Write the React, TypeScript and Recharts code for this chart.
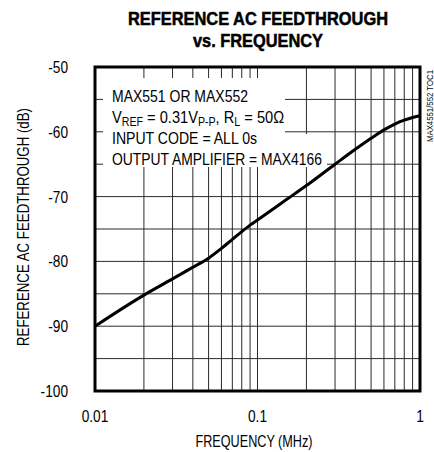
import { CartesianGrid, Customized, Line, LineChart, ReferenceArea, XAxis, YAxis } from "recharts";

const freqMHz = [0.01, 0.02, 0.03, 0.04, 0.05, 0.06, 0.07, 0.08, 0.09, 0.1, 0.15, 0.2, 0.3, 0.4, 0.5, 0.6, 0.7, 0.8, 0.9, 1];
const feedthroughDb = [-90, -85.2, -82.7, -80.9, -79.5, -78, -76.6, -75.4, -74.4, -73.6, -70.5, -68.3, -65, -62.7, -61, -59.7, -58.8, -58.2, -57.8, -57.5];

const xTicks = [0.01, 0.1, 1];
const xTickLabels = ["0.01", "0.1", "1"];
const yTicks = [-100, -90, -80, -70, -60, -50];
const xGrid = [0.02, 0.03, 0.04, 0.05, 0.06, 0.07, 0.08, 0.09, 0.1, 0.2, 0.3, 0.4, 0.5, 0.6, 0.7, 0.8, 0.9];
const yGrid = [-95, -90, -85, -80, -75, -70, -65, -60, -55];

const data = freqMHz.map((f, i) => ({ f, db: feedthroughDb[i] }));

const FONT = "'Liberation Sans', Arial, Helvetica, sans-serif";
const NARROW = 0.83;

function XTick(props: any) {
  const { x, y, payload } = props;
  const label = xTickLabels[xTicks.indexOf(payload.value)] ?? String(payload.value);
  return (
    <g transform={`translate(${x},${y + 31})`}>
      <text transform={`scale(${NARROW},1)`} textAnchor="middle" fontSize={16.5} fontFamily={FONT} fill="#000">
        {label}
      </text>
    </g>
  );
}

function YTick(props: any) {
  const { x, y, payload } = props;
  return (
    <g transform={`translate(${x},${y + 6})`}>
      <text transform={`scale(${NARROW},1)`} textAnchor="end" fontSize={16.5} fontFamily={FONT} fill="#000">
        {payload.value}
      </text>
    </g>
  );
}

function Overlay() {
  return (
    <g fontFamily={FONT} fill="#000">
      {/* title */}
      <text x={258} y={25} textAnchor="middle" fontSize={18} fontWeight={700} stroke="#000" strokeWidth={0.5} textLength={260} lengthAdjust="spacingAndGlyphs">
        REFERENCE AC FEEDTHROUGH
      </text>
      <text x={258} y={47} textAnchor="middle" fontSize={18} fontWeight={700} stroke="#000" strokeWidth={0.5} textLength={130} lengthAdjust="spacingAndGlyphs">
        vs. FREQUENCY
      </text>

      {/* white patch behind the conditions text */}
      <rect x={103} y={78} width={182} height={89} fill="#fff" />
      <rect x={284} y={134} width={43} height={33} fill="#fff" />

      <text x={112} y={102} fontSize={16.5} textLength={136} lengthAdjust="spacingAndGlyphs">MAX551 OR MAX552</text>
      <g transform="translate(112,123) scale(0.887,1)">
        <text x={0} y={0} fontSize={16.5}>
          V<tspan fontSize={12} baselineShift="-3">REF</tspan> = 0.31V<tspan fontSize={12} baselineShift="-3">P-P</tspan>, R<tspan fontSize={12} baselineShift="-3">L</tspan> = 50Ω
        </text>
      </g>
      <text x={112} y={144} fontSize={16.5} textLength={145} lengthAdjust="spacingAndGlyphs">INPUT CODE = ALL 0s</text>
      <text x={112} y={165} fontSize={16.5} textLength={210} lengthAdjust="spacingAndGlyphs">OUTPUT AMPLIFIER = MAX4166</text>

      {/* axis titles */}
      <text x={254} y={447} textAnchor="middle" fontSize={16} textLength={117} lengthAdjust="spacingAndGlyphs">FREQUENCY (MHz)</text>
      <text transform="translate(28.5,227) rotate(-90)" textAnchor="middle" fontSize={16} textLength={238} lengthAdjust="spacingAndGlyphs">
        REFERENCE AC FEEDTHROUGH (dB)
      </text>
      <text transform="translate(433,106) rotate(-90)" textAnchor="middle" fontSize={9.5} textLength={72} lengthAdjust="spacingAndGlyphs">
        MAX4551/552 TOC1
      </text>
    </g>
  );
}

export default function App() {
  return (
    <div style={{ position: "absolute", left: 0, top: 0, width: 434, height: 452, background: "#fff" }}>
      <LineChart width={434} height={452} data={data} margin={{ top: 67, right: 14, left: 0, bottom: 0 }}>
        <CartesianGrid horizontalValues={yGrid} verticalValues={xGrid} stroke="#2a2a2a" strokeWidth={1} />
        <XAxis
          dataKey="f"
          type="number"
          scale="log"
          domain={[0.01, 1]}
          ticks={xTicks}
          interval={0}
          axisLine={false}
          tickLine={false}
          tickSize={0}
          tickMargin={0}
          height={61}
          allowDataOverflow
          tick={<XTick />}
        />
        <YAxis
          type="number"
          domain={[-100, -50]}
          ticks={yTicks}
          interval={0}
          axisLine={false}
          tickLine={false}
          tickSize={0}
          tickMargin={27}
          width={95}
          tick={<YTick />}
        />
        <Customized component={Overlay} />
        <ReferenceArea x1={0.01} x2={1} y1={-100} y2={-50} fill="none" stroke="#000" strokeWidth={3} ifOverflow="visible" />
        <Line dataKey="db" type="monotone" stroke="#000" strokeWidth={3} dot={false} isAnimationActive={false} />
      </LineChart>
    </div>
  );
}
